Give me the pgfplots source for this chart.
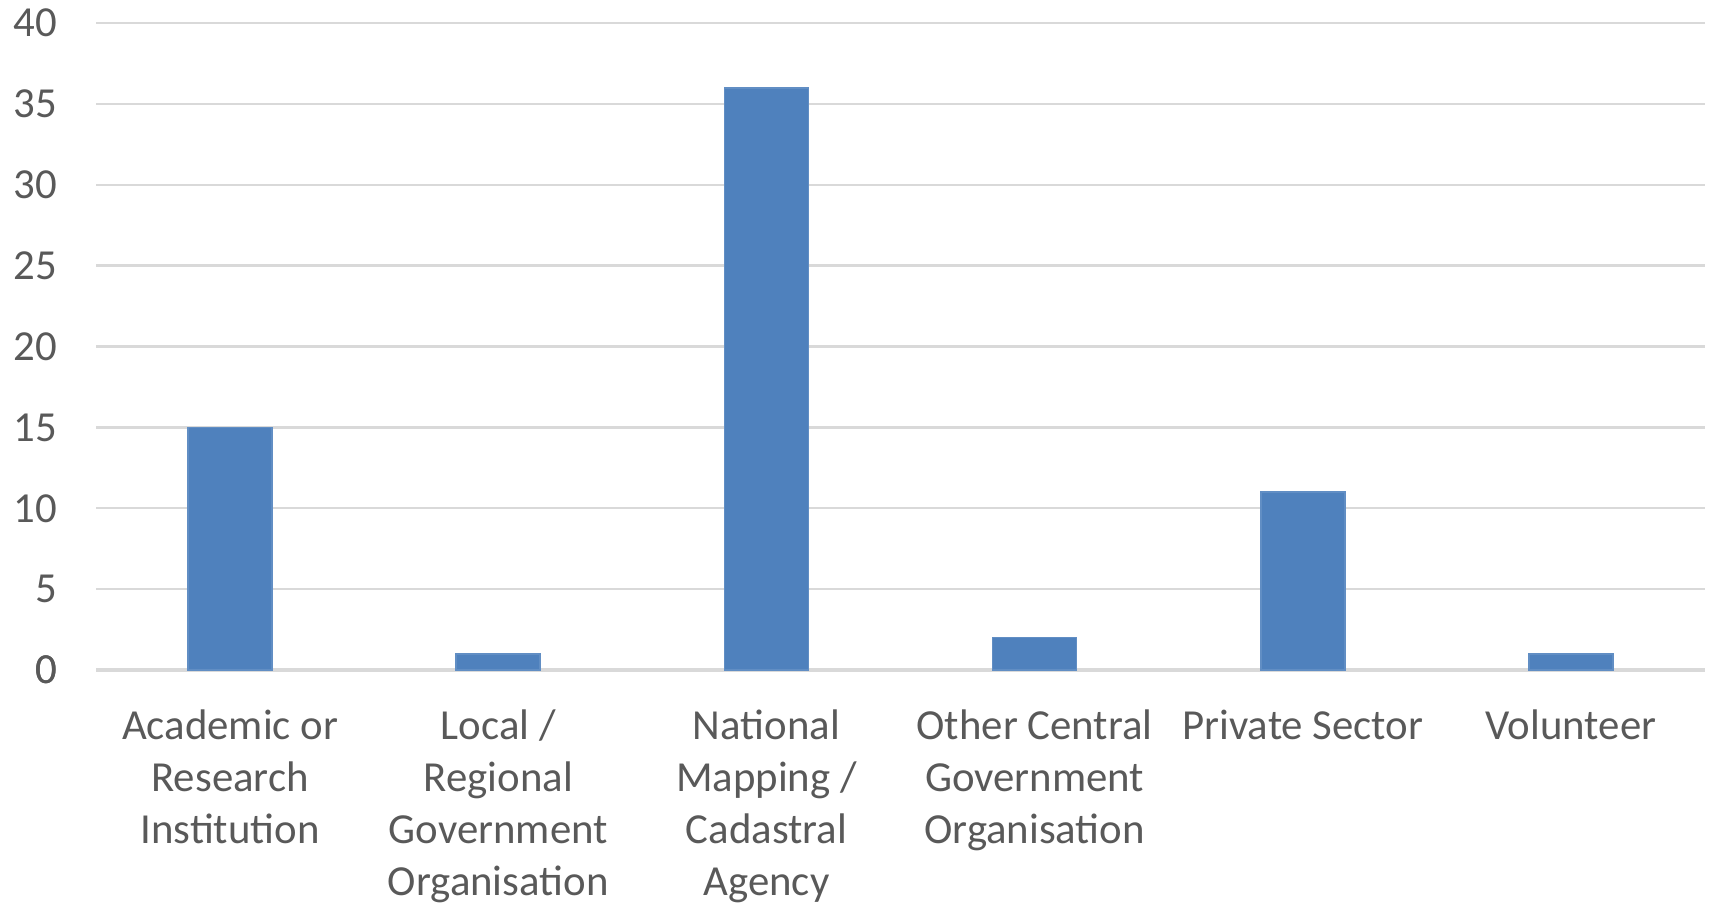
\documentclass[border=0pt]{standalone}
\usepackage{fontspec}
\setmainfont{Carlito}
\usepackage{pgfplots}
\pgfplotsset{compat=1.18}
\definecolor{barblue}{HTML}{4F81BD}
\definecolor{gridgray}{HTML}{D9D9D9}
\definecolor{textgray}{HTML}{595959}
\begin{document}
\begin{tikzpicture}
\begin{axis}[
    at={(24pt,58.25pt)}, anchor=south west,
    scale only axis,
    width=402.25pt, height=161.75pt,
    ybar, bar width=21pt,
    xmin=-0.5, xmax=5.5,
    ymin=0, ymax=40,
    ytick={0,5,...,40},
    xtick=data,
    xticklabels={
        Academic or\\Research\\Institution,
        Local /\\Regional\\Government\\Organisation,
        National\\Mapping /\\Cadastral\\Agency,
        Other Central\\Government\\Organisation,
        Private Sector,
        Volunteer},
    axis line style={draw=none},
    major tick length=0pt,
    ymajorgrids, grid style={gridgray, line width=0.6pt},
    font=\fontsize{10.7}{13}\selectfont,
    tick label style={text=textgray},
    /pgf/number format/assume math mode=true,
    yticklabel style={anchor=east, inner sep=0pt, xshift=-9.5pt},
    xticklabel style={anchor=north, align=center, inner sep=0pt, yshift=-9.7pt},
    extra y ticks={0},
    extra y tick style={grid style={gridgray, line width=0.8pt}},
]
\addplot[fill=barblue, draw=barblue!90!white] coordinates {
    (0,15) (1,1) (2,36) (3,2) (4,11) (5,1)
};
\end{axis}
\pgfresetboundingbox
\path[use as bounding box] (0,0) rectangle (427.5pt,225.75pt);
\end{tikzpicture}
\end{document}
